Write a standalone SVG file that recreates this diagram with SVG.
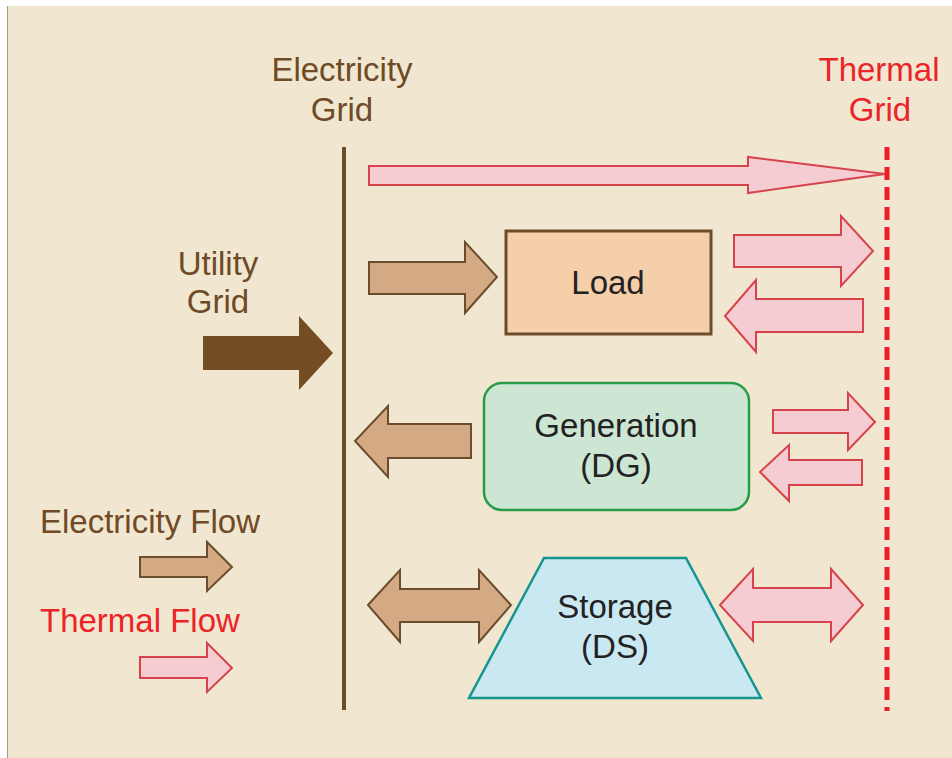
<svg xmlns="http://www.w3.org/2000/svg" width="952" height="758" viewBox="0 0 952 758">
<style>
text{font-family:"Liberation Sans",Arial,sans-serif;font-size:33px;text-anchor:middle}
.brown{fill:#6e4a26}
.red{fill:#ec2328}
.dark{fill:#222}
.tan{fill:#d4aa84;stroke:#6b4d2e;stroke-width:2;stroke-linejoin:miter}
.pink{fill:#f6ccd3;stroke:#d7434b;stroke-width:2;stroke-linejoin:miter}
</style>
<rect x="0" y="0" width="952" height="758" fill="#ffffff"/>
<rect x="7" y="6" width="945" height="752" fill="#f1e7d0"/>
<line x1="7.5" y1="6" x2="7.5" y2="758" stroke="#9aa57a" stroke-width="1"/>

<g id="electricity-grid">
<line x1="344" y1="147" x2="344" y2="710" stroke="#6b4d2a" stroke-width="4"/>
<text class="brown" x="342" y="81">Electricity</text>
<text class="brown" x="342" y="121">Grid</text>
</g>
<g id="thermal-grid">
<line x1="887" y1="147" x2="887" y2="711" stroke="#ee1c25" stroke-width="5" stroke-dasharray="13 7"/>
<text class="red" x="879" y="81">Thermal</text>
<text class="red" x="880" y="121">Grid</text>
</g>
<g id="utility-grid">
<text class="brown" x="218" y="275">Utility</text>
<text class="brown" x="218" y="313">Grid</text>
</g>
<g id="load">
<rect x="506" y="231" width="205" height="103" fill="#f5cfa9" stroke="#6b4d2a" stroke-width="3"/>
<text class="dark" x="608" y="294">Load</text>
</g>
<g id="generation">
<rect x="484" y="383" width="265" height="127" rx="18" fill="#cce6d3" stroke="#2b9b48" stroke-width="2.5"/>
<text class="dark" x="616" y="437">Generation</text>
<text class="dark" x="616" y="477">(DG)</text>
</g>
<g id="storage">
<polygon points="544,558 686,558 761,698 469,698" fill="#cae8f2" stroke="#16958f" stroke-width="2.5"/>
<text class="dark" x="615" y="618">Storage</text>
<text class="dark" x="615" y="658">(DS)</text>
</g>
<g id="legend">
<text class="brown" x="40" y="533" style="text-anchor:start">Electricity Flow</text>
<polygon class="tan" points="140,557 207,557 207,542 232,567 207,591 207,577 140,577"/>
<text class="red" x="40" y="632" style="text-anchor:start">Thermal Flow</text>
<polygon class="pink" points="140,657 207,657 207,643 232,668 207,692 207,678 140,678"/>
</g>
<g id="connectors">
<polygon points="203,336 299,336 299,316 333,353 299,390 299,370 203,370" fill="#744d25"/>
<polygon class="pink" points="369,166 748,166 748,157 885,174 748,193 748,185 369,185"/>
<polygon class="tan" points="369,262 465,262 465,242 497,277 465,313 465,294 369,294"/>
<polygon class="pink" points="734,235 841,235 841,216 873,251 841,286 841,267 734,267"/>
<polygon class="pink" points="863,299 756,299 756,280 725,316 756,352 756,332 863,332"/>
<polygon class="tan" points="471,424 388,424 388,406 355,441 388,477 388,458 471,458"/>
<polygon class="pink" points="773,410 848,410 848,393 875,422 848,450 848,433 773,433"/>
<polygon class="pink" points="862,460 789,460 789,445 760,472 789,501 789,485 862,485"/>
<polygon class="tan" points="368,605 400,570 400,589 479,589 479,570 511,605 479,642 479,622 400,622 400,642"/>
<polygon class="pink" points="720,605 753,569 753,588 831,588 831,569 863,605 831,641 831,622 753,622 753,641"/>
</g>
</svg>
